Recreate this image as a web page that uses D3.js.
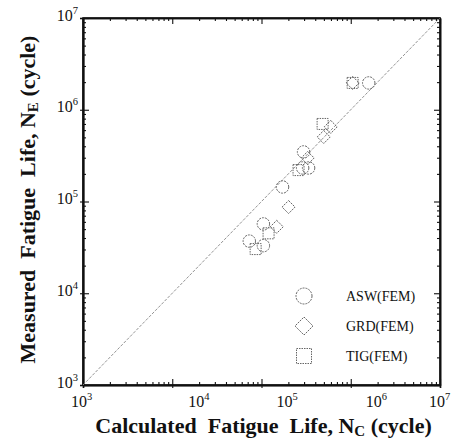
<!DOCTYPE html>
<html>
<head>
<meta charset="utf-8">
<script src="https://cdn.jsdelivr.net/npm/d3@7"></script>
<style>
  body { margin: 0; background: #fff; }
  svg { display: block; }
  text { font-family: "Liberation Serif", "Times New Roman", serif; }
</style>
</head>
<body>
<svg id="chart" width="459" height="442"></svg>
<script>
// ---- data (calculated life N_C, measured life N_E) ----
const aswCalc = [7.3e4, 1.05e5, 1.05e5, 1.72e5, 2.96e5, 2.89e5, 3.37e5, 1.59e6];
const aswMeas = [3.7e4, 5.7e4, 3.3e4, 1.44e5, 3.47e5, 2.32e5, 2.32e5, 1.96e6];
const grdCalc = [2.01e5, 1.48e5, 3.29e5, 4.98e5, 5.96e5, 1.05e6];
const grdMeas = [8.7e4, 5.3e4, 2.98e5, 5.05e5, 6.5e5, 1.96e6];
const tigCalc = [8.6e4, 1.2e5, 2.6e5, 4.84e5, 1.05e6];
const tigMeas = [3.03e4, 4.5e4, 2.2e5, 7.0e5, 1.96e6];
const seriesNames = ["ASW(FEM)", "GRD(FEM)", "TIG(FEM)"];
const majorTicks = [1e3, 1e4, 1e5, 1e6, 1e7];
const tickExponents = ["3", "4", "5", "6", "7"];

// ---- layout ----
const svg = d3.select("#chart");
const m = { left: 83, top: 18, right: 19, bottom: 57 };
const W = 459 - m.left - m.right, H = 442 - m.top - m.bottom;
const g = svg.append("g").attr("transform", `translate(${m.left},${m.top})`);

const x = d3.scaleLog().domain([1e3, 1e7]).range([0, W]);
const y = d3.scaleLog().domain([1e3, 1e7]).range([H, 0]);

const minorTicks = [];
for (let e = 3; e < 7; e++) for (let k = 2; k <= 9; k++) minorTicks.push(k * Math.pow(10, e));

const ink = "#111";
function styleAxis(sel) {
  sel.select(".domain").attr("stroke", ink).attr("stroke-width", 1.6);
  sel.selectAll(".tick line").attr("stroke", ink).attr("stroke-width", 1.1);
}

// major + minor ticks, inward, all four sides
const axes = [
  { ax: d3.axisBottom(x), t: `translate(0,${H})` },
  { ax: d3.axisTop(x), t: `translate(0,0)` },
  { ax: d3.axisLeft(y), t: `translate(0,0)` },
  { ax: d3.axisRight(y), t: `translate(${W},0)` },
];
axes.forEach(a => {
  g.append("g").attr("transform", a.t)
    .call(a.ax.tickValues(minorTicks).tickSizeInner(-3).tickSizeOuter(0).tickFormat(""))
    .call(styleAxis);
  g.append("g").attr("transform", a.t)
    .call(a.ax.tickValues(majorTicks).tickSizeInner(-6).tickSizeOuter(0).tickFormat(""))
    .call(styleAxis);
});

// tick labels (10 with superscript); the printed x labels sit slightly right of their ticks
const xNudge = [-2, 26, 25, 25, -1];
const xLab = g.append("g").attr("transform", `translate(0,${H})`)
  .call(d3.axisBottom(x).tickValues(majorTicks).tickSize(3).tickFormat(""))
  .call(styleAxis);
xLab.selectAll(".tick").append("text")
  .attr("x", (d, i) => xNudge[i])
  .attr("y", 22).attr("text-anchor", "middle")
  .attr("fill", ink).style("font-size", "16px")
  .each(function (d, i) {
    const t = d3.select(this);
    t.append("tspan").text("10");
    t.append("tspan").attr("dy", "-7").style("font-size", "10.5px").text(tickExponents[i]);
  });

const yLab = g.append("g")
  .call(d3.axisLeft(y).tickValues(majorTicks).tickSize(3).tickFormat(""))
  .call(styleAxis);
yLab.selectAll(".tick").append("text")
  .attr("x", -5).attr("y", 2).attr("text-anchor", "end")
  .attr("fill", ink).style("font-size", "16px")
  .each(function (d, i) {
    const t = d3.select(this);
    t.append("tspan").text("10");
    t.append("tspan").attr("dy", "-7").style("font-size", "10.5px").text(tickExponents[i]);
  });

// frame
g.append("rect").attr("width", W).attr("height", H)
  .attr("fill", "none").attr("stroke", ink).attr("stroke-width", 1.6);

// 1:1 line
g.append("path")
  .attr("d", d3.line()([[x(1e3), y(1e3)], [x(1e7), y(1e7)]]))
  .attr("stroke", "#888").attr("stroke-width", 0.9)
  .attr("stroke-dasharray", "3,1.5").attr("fill", "none");

// markers
const mk = "#666";
function circle(sel, r) {
  sel.append("circle").attr("r", r).attr("fill", "none")
    .attr("stroke", mk).attr("stroke-width", 1).attr("stroke-dasharray", "2,1");
}
function diamond(sel, r) {
  sel.append("path").attr("d", `M0,${-r}L${r},0L0,${r}L${-r},0Z`).attr("fill", "none")
    .attr("stroke", mk).attr("stroke-width", 1).attr("stroke-dasharray", "2,1");
}
function square(sel, r) {
  sel.append("rect").attr("x", -r).attr("y", -r).attr("width", 2 * r).attr("height", 2 * r)
    .attr("fill", "none").attr("stroke", mk).attr("stroke-width", 1).attr("stroke-dasharray", "1.5,1");
}

function plot(xs, ys, fn, r) {
  xs.forEach((v, i) => {
    const s = g.append("g").attr("transform", `translate(${x(v)},${y(ys[i])})`);
    fn(s, r);
  });
}
plot(tigCalc, tigMeas, square, 5.5);
plot(grdCalc, grdMeas, diamond, 6.5);
plot(aswCalc, aswMeas, circle, 6.2);

// legend
const leg = g.append("g").attr("transform", `translate(${304 - m.left},${296 - m.top})`);
const legFns = [[circle, 8], [diamond, 9], [square, 7.5]];
seriesNames.forEach((n, i) => {
  const row = leg.append("g").attr("transform", `translate(0,${i * 30})`);
  legFns[i][0](row, legFns[i][1]);
  row.append("text").attr("x", 42).attr("y", 5).attr("fill", ink)
    .style("font-size", "14px").text(n);
});

// axis titles
svg.append("text")
  .attr("x", m.left + W / 2 + 2).attr("y", 433).attr("text-anchor", "middle")
  .attr("fill", ink).style("font-size", "22px").style("font-weight", "bold")
  .attr("xml:space", "preserve")
  .call(t => {
    t.append("tspan").text("Calculated  Fatigue  Life, N");
    t.append("tspan").attr("dy", 3).style("font-size", "15px").text("C");
    t.append("tspan").attr("dy", -3).text(" (cycle)");
  });

svg.append("text")
  .attr("transform", `translate(35,${m.top + H / 2 - 2}) rotate(-90)`)
  .attr("text-anchor", "middle")
  .attr("fill", ink).style("font-size", "22px").style("font-weight", "bold")
  .attr("xml:space", "preserve")
  .call(t => {
    t.append("tspan").text("Measured  Fatigue  Life, N");
    t.append("tspan").attr("dy", 3).style("font-size", "15px").text("E");
    t.append("tspan").attr("dy", -3).text(" (cycle)");
  });
</script>
</body>
</html>
